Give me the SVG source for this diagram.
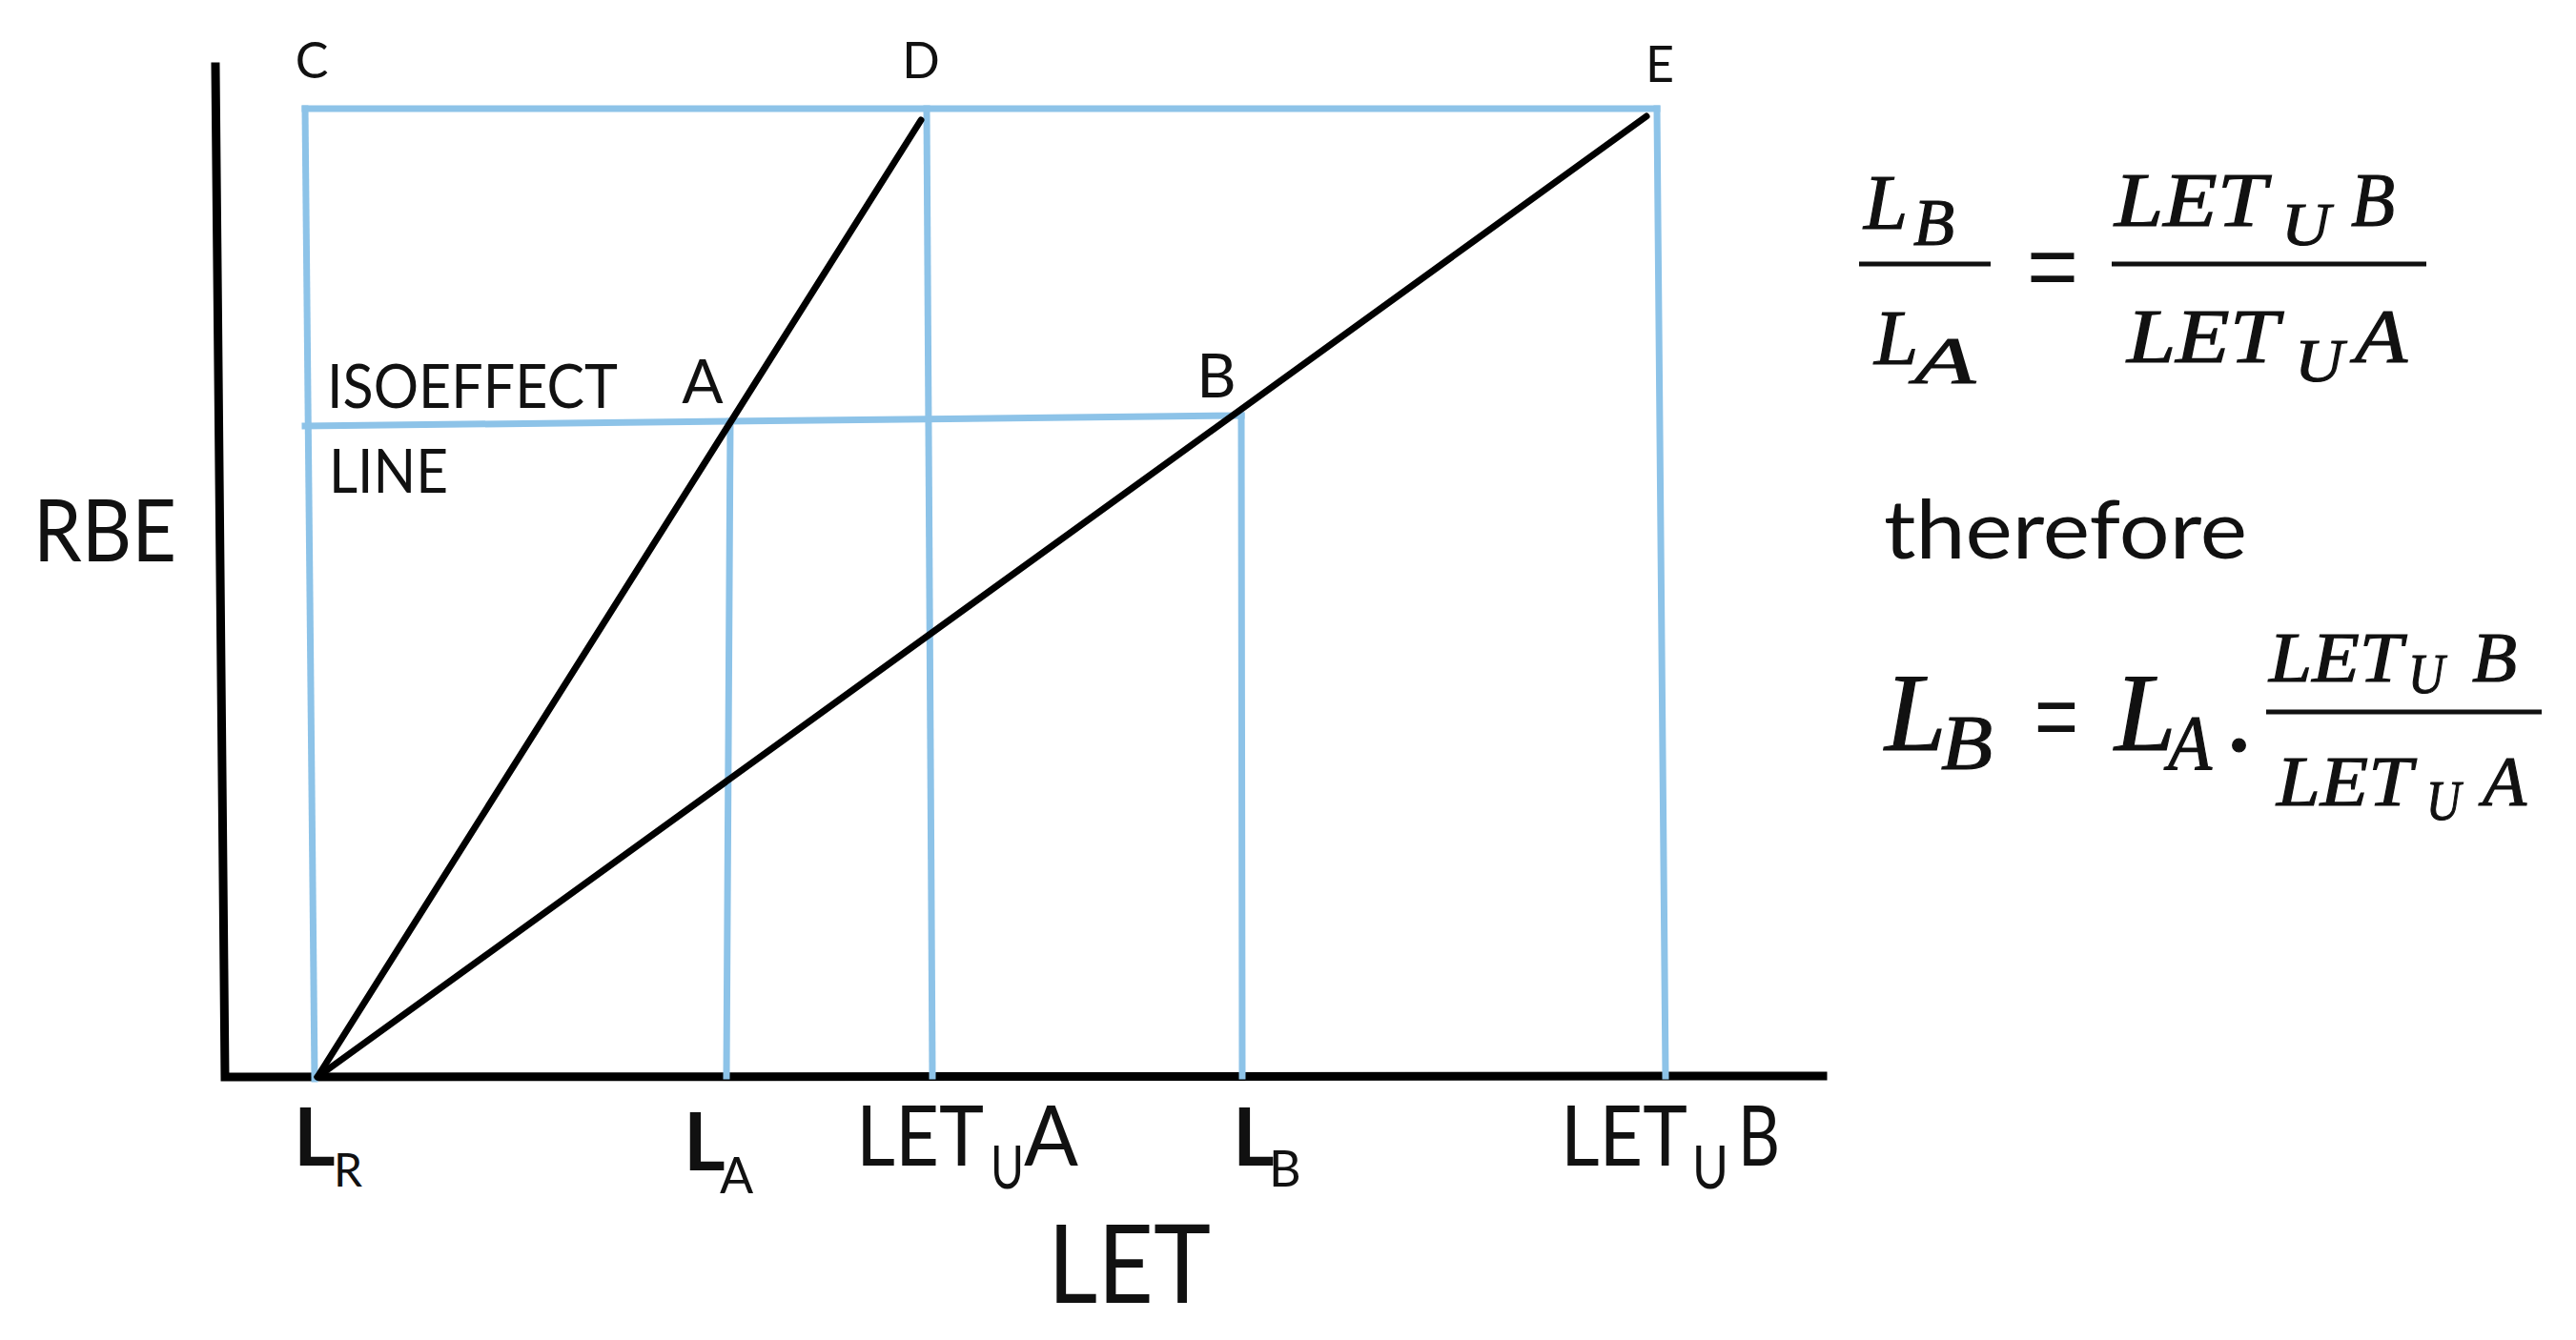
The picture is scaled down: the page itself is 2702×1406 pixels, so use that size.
<svg xmlns="http://www.w3.org/2000/svg" width="2702" height="1406" viewBox="0 0 2702 1406">
<style>
.bg{fill:#ffffff}
.axis{stroke:#000;stroke-width:9;fill:none;stroke-linecap:square}
.curve{stroke:#000;stroke-width:7;fill:none;stroke-linecap:round}
.blue{stroke:#8dc3e8;stroke-width:7;fill:none;stroke-linecap:square}
.lbl{font-family:Lato,"Open Sans","Liberation Sans",sans-serif;fill:#111}
.bold{font-weight:bold}
.math{font-family:"Liberation Serif","DejaVu Serif",serif;font-style:italic;fill:#111;stroke:#111;stroke-width:1.2}
.eq{font-family:"Liberation Sans",Arial,sans-serif;fill:#111}
.bar{stroke:#111;stroke-width:5}
</style>
<rect class="bg" x="0" y="0" width="2702" height="1406"/>
<g id="axes">
<path class="axis" d="M226,70 L236,1130 L1912,1129"/>
</g>
<g id="connectors">
<path class="blue" d="M320,114 L1738,114"/>
<path class="blue" d="M320,114 L330,1132"/>
<path class="blue" d="M972,114 L978,1129"/>
<path class="blue" d="M1738,114 L1747,1129"/>
<path class="blue" d="M320,447 L1302,436"/>
<path class="blue" d="M766,442 L762,1129"/>
<path class="blue" d="M1302,436 L1303,1129"/>
<path class="curve" d="M333,1130 L966,126"/>
<path class="curve" d="M333,1130 L1727,122"/>
</g>
<g id="node-C"><text class="lbl" x="327" y="82" font-size="52" text-anchor="middle">C</text></g>
<g id="node-D"><text class="lbl" x="966" y="82" font-size="52" text-anchor="middle">D</text></g>
<g id="node-E"><text class="lbl" x="1741" y="86" font-size="52" text-anchor="middle">E</text></g>
<g id="node-A"><text class="lbl" x="737" y="423" font-size="64" text-anchor="middle">A</text></g>
<g id="node-B"><text class="lbl" x="1276" y="417" font-size="64" text-anchor="middle">B</text></g>
<g id="isoeffect-label">
<text class="lbl" x="343" y="428" font-size="64" textLength="305" lengthAdjust="spacingAndGlyphs">ISOEFFECT</text>
<text class="lbl" x="345" y="517" font-size="64" textLength="125" lengthAdjust="spacingAndGlyphs">LINE</text>
</g>
<g id="axis-labels">
<text class="lbl" x="35" y="589" font-size="92" textLength="150" lengthAdjust="spacingAndGlyphs">RBE</text>
<text class="lbl" x="1099" y="1367" font-size="114" textLength="171" lengthAdjust="spacingAndGlyphs">LET</text>
</g>
<g id="tick-LR"><text class="lbl bold" x="308" y="1223" font-size="84">L<tspan x="350" y="1245" font-size="48" font-weight="normal">R</tspan></text></g>
<g id="tick-LA"><text class="lbl bold" x="717" y="1228" font-size="84">L<tspan x="755" y="1252" font-size="52" font-weight="normal">A</tspan></text></g>
<g id="tick-LETuA"><text class="lbl" x="898" y="1223" font-size="88"><tspan textLength="134" lengthAdjust="spacingAndGlyphs">LET</tspan><tspan x="1039" y="1247" font-size="62" textLength="35" lengthAdjust="spacingAndGlyphs">U</tspan><tspan x="1074" y="1223" textLength="57" lengthAdjust="spacingAndGlyphs">A</tspan></text></g>
<g id="tick-LB"><text class="lbl bold" x="1293" y="1223" font-size="84">L<tspan x="1331" y="1245" font-size="52" font-weight="normal">B</tspan></text></g>
<g id="tick-LETuB"><text class="lbl" x="1637" y="1223" font-size="88"><tspan textLength="133" lengthAdjust="spacingAndGlyphs">LET</tspan><tspan x="1775" y="1247" font-size="62" textLength="38" lengthAdjust="spacingAndGlyphs">U</tspan><tspan x="1823" y="1223" textLength="44" lengthAdjust="spacingAndGlyphs">B</tspan></text></g>
<g id="equation-1">
<text class="math" x="1955" y="240" font-size="83">L<tspan x="2007" y="257" font-size="70" textLength="43" lengthAdjust="spacingAndGlyphs">B</tspan></text>
<line class="bar" x1="1950" y1="277" x2="2088" y2="277"/>
<text class="math" x="1966" y="382" font-size="83">L<tspan x="2008" y="402" font-size="70" textLength="64" lengthAdjust="spacingAndGlyphs">A</tspan></text>
<text class="eq" x="2126" y="312" font-size="95" textLength="54" lengthAdjust="spacingAndGlyphs">=</text>
<line class="bar" x1="2215" y1="277" x2="2545" y2="277"/>
<text class="math" x="2218" y="237" font-size="80"><tspan textLength="159" lengthAdjust="spacingAndGlyphs">LET</tspan><tspan x="2393" y="257" font-size="64" textLength="51" lengthAdjust="spacingAndGlyphs">U</tspan><tspan x="2466" y="237" textLength="46" lengthAdjust="spacingAndGlyphs">B</tspan></text>
<text class="math" x="2231" y="380" font-size="80"><tspan textLength="159" lengthAdjust="spacingAndGlyphs">LET</tspan><tspan x="2407" y="400" font-size="64" textLength="51" lengthAdjust="spacingAndGlyphs">U</tspan><tspan x="2470" y="380" textLength="55" lengthAdjust="spacingAndGlyphs">A</tspan></text>
</g>
<g id="therefore"><text class="lbl" x="1976" y="586" font-size="86" textLength="381" lengthAdjust="spacingAndGlyphs">therefore</text></g>
<g id="equation-2">
<text class="math" x="1977" y="787" font-size="116">L<tspan x="2036" y="807" font-size="83" textLength="54" lengthAdjust="spacingAndGlyphs">B</tspan></text>
<text class="eq" x="2134" y="784" font-size="95" textLength="46" lengthAdjust="spacingAndGlyphs">=</text>
<text class="math" x="2218" y="787" font-size="116">L<tspan x="2274" y="807" font-size="83" textLength="46" lengthAdjust="spacingAndGlyphs">A</tspan><tspan x="2334" y="787" font-style="normal">.</tspan></text>
<line class="bar" x1="2377" y1="747" x2="2666" y2="747"/>
<text class="math" x="2380" y="715" font-size="75"><tspan textLength="140" lengthAdjust="spacingAndGlyphs">LET</tspan><tspan x="2526" y="727" font-size="60" textLength="38" lengthAdjust="spacingAndGlyphs">U</tspan><tspan x="2593" y="715" textLength="47" lengthAdjust="spacingAndGlyphs">B</tspan></text>
<text class="math" x="2388" y="845" font-size="75"><tspan textLength="142" lengthAdjust="spacingAndGlyphs">LET</tspan><tspan x="2545" y="860" font-size="60" textLength="36" lengthAdjust="spacingAndGlyphs">U</tspan><tspan x="2604" y="845" textLength="46" lengthAdjust="spacingAndGlyphs">A</tspan></text>
</g>
</svg>
